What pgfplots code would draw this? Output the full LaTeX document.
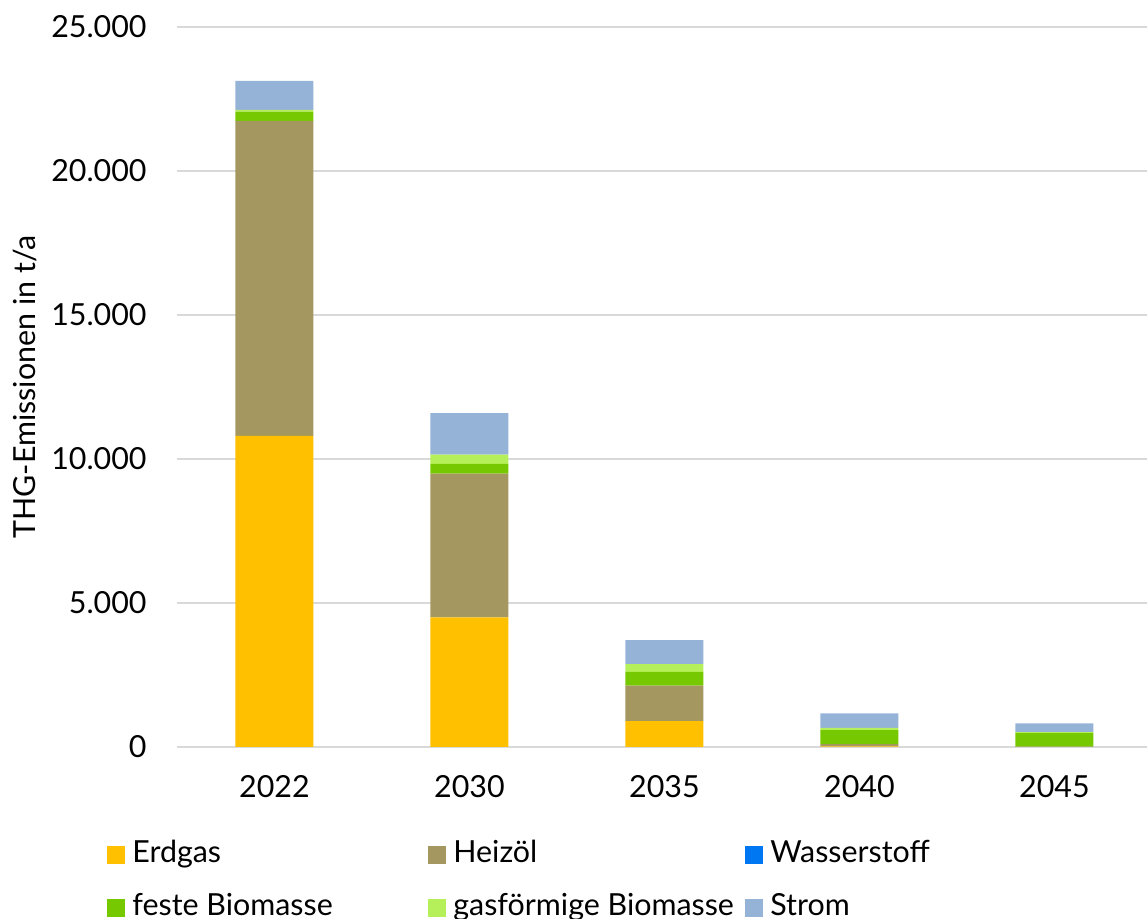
\documentclass[border=0pt]{standalone}
\usepackage{fontspec}
\setmainfont{Lato}
\usepackage{pgfplots}
\pgfplotsset{compat=1.18}
\definecolor{cErd}{HTML}{FFC000}
\definecolor{cHei}{HTML}{A49760}
\definecolor{cWas}{HTML}{0077F2}
\definecolor{cFes}{HTML}{76C900}
\definecolor{cGas}{HTML}{B5F05A}
\definecolor{cStr}{HTML}{95B3D7}
\definecolor{gridgray}{HTML}{D9D9D9}
\pgfplotsset{
  mybar/.style={fill=#1, draw=none,
    legend image code/.code={\fill[fill=#1] (0pt,-4.5pt) rectangle (9pt,4.5pt);}},
}
\begin{document}
\fontsize{15.2}{18}\selectfont
\begin{tikzpicture}
\useasboundingbox (-88.5pt,-86pt) rectangle (485pt,373.5pt);
\begin{axis}[
  at={(0,0)}, anchor=south west,
  width=487.5pt, height=360pt, scale only axis,
  xmin=-0.5, xmax=4.5, ymin=0, ymax=25000,
  ybar stacked, bar width=0.4,
  xtick={0,1,2,3,4}, xticklabels={2022,2030,2035,2040,2045},
  ytick={0,5000,10000,15000,20000,25000},
  scaled y ticks=false,
  ymajorgrids, grid style={draw=gridgray, line width=1pt},
  axis x line*=bottom, axis y line*=left,
  x axis line style={draw=gridgray, line width=1pt},
  y axis line style={draw=none},
  major tick length=0pt,
  yticklabel style={/pgf/number format/.cd, 1000 sep={.}, assume math mode=true, /tikz/.cd, anchor=east, inner sep=0pt, xshift=-15pt},
  xticklabel style={anchor=center, yshift=-20pt},
  every axis y label/.style={at={(axis description cs:-0.156,0.5)}, rotate=90, anchor=center},
  ylabel={THG-Emissionen in t/a},
  legend columns=3,
  legend style={at={(axis description cs:0,0)}, anchor=north west, xshift=-35pt, yshift=-46.5pt,
    draw=none, fill=none, inner sep=0pt, row sep=11.5pt,
    nodes={inner sep=0pt, text height=11pt, text depth=4pt},
    /tikz/every odd column/.append style={column sep=3.5pt}},
]
\addplot[mybar=cErd] coordinates {(0,10800) (1,4500) (2,900) (3,20) (4,0)};
\addlegendentry{\makebox[148pt][l]{Erdgas}}
\addplot[mybar=cHei] coordinates {(0,10940) (1,4990) (2,1230) (3,80) (4,10)};
\addlegendentry{\makebox[146pt][l]{Heizöl}}
\addplot[mybar=cWas] coordinates {(0,0) (1,0) (2,0) (3,0) (4,0)};
\addlegendentry{\makebox[146pt][l]{Wasserstoff}}
\addplot[mybar=cFes] coordinates {(0,320) (1,340) (2,480) (3,490) (4,470)};
\addlegendentry{\makebox[148pt][l]{feste Biomasse}}
\addplot[mybar=cGas] coordinates {(0,60) (1,320) (2,270) (3,70) (4,40)};
\addlegendentry{\makebox[146pt][l]{gasförmige Biomasse}}
\addplot[mybar=cStr] coordinates {(0,1010) (1,1440) (2,830) (3,510) (4,300)};
\addlegendentry{\makebox[146pt][l]{Strom}}
\end{axis}
\end{tikzpicture}
\end{document}
